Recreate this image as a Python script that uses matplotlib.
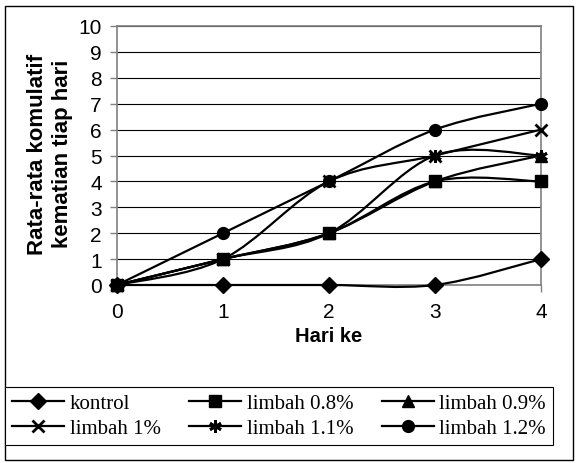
import numpy as np
import matplotlib
matplotlib.use('Agg')
import matplotlib.pyplot as plt
from matplotlib.path import Path
from matplotlib.patches import PathPatch, Rectangle
from matplotlib.lines import Line2D

# THE DATA *****************************************************************

days = [0, 1, 2, 3, 4]
series_names = ['kontrol', 'limbah 0.8%', 'limbah 0.9%', 'limbah 1%', 'limbah 1.1%', 'limbah 1.2%']
kontrol = [0, 0, 0, 0, 1]
limbah_08 = [0, 1, 2, 4, 4]
limbah_09 = [0, 1, 2, 4, 5]
limbah_10 = [0, 1, 4, 5, 6]
limbah_11 = [0, 1, 2, 5, 5]
limbah_12 = [0, 2, 4, 6, 7]
y_ticks = list(range(0, 11))

all_series = [kontrol, limbah_08, limbah_09, limbah_10, limbah_11, limbah_12]
markers = ['D', 's', '^', 'x', (6, 2, 0), 'o']
msizes = [8, 8.5, 8.5, 8, 9, 8.5]


# Excel-style smoothed line: cubic Bezier through the points
def smooth_path(x, y):
    pts = np.column_stack([x, y]).astype(float)
    n = len(pts)
    verts = [pts[0]]
    codes = [Path.MOVETO]
    for i in range(n - 1):
        p_prev = pts[i - 1] if i > 0 else pts[i]
        p_next2 = pts[i + 2] if i + 2 < n else pts[i + 1]
        c1 = pts[i] + (pts[i + 1] - p_prev) / 6
        c2 = pts[i + 1] - (p_next2 - pts[i]) / 6
        verts += [c1, c2, pts[i + 1]]
        codes += [Path.CURVE4] * 3
    return Path(verts, codes)


# THE CHART ****************************************************************

plt.rcParams['font.family'] = 'Liberation Sans'

fig = plt.figure(figsize=(5.76, 4.64), dpi=100, facecolor='w')
ax = fig.add_axes([117 / 576, 178 / 464, 424 / 576, 259 / 464])

for vals, mk, ms in zip(all_series, markers, msizes):
    ax.add_patch(PathPatch(smooth_path(days, vals), fill=False, edgecolor='k',
                           linewidth=1.6, zorder=3, clip_on=False))
    ax.plot(days, vals, linestyle='none', marker=mk, markersize=ms, color='k',
            markeredgewidth=2 if mk in ('x', (6, 2, 0)) else 1, zorder=4, clip_on=False)

ax.set_xlim(0, 4)
ax.set_ylim(0, 10)
ax.set_xticks(days)
ax.set_yticks(y_ticks)
ax.tick_params(axis='both', labelsize=15, color='#808080', length=5, width=1)
ax.tick_params(axis='x', pad=7)
ax.tick_params(axis='y', pad=6)
ax.grid(axis='y', color='k', linewidth=0.8, zorder=1)
for s in ax.spines.values():
    s.set_color('#808080')
    s.set_linewidth(1.2)

ax.set_xlabel('Hari ke', fontsize=14.5, fontweight='bold', labelpad=4)
fig.text(50 / 576, 1 - 154 / 464, 'Rata-rata komulatif\nkematian tiap hari', rotation=90,
         ha='center', va='center', fontsize=16, fontweight='bold', multialignment='center',
         linespacing=1.3)

# Legend (matplotlib fills columns first, so reorder to read row by row)
handles = [Line2D([], [], color='k', linewidth=1.6, marker=mk, markersize=ms,
                  markeredgewidth=2 if mk in ('x', (6, 2, 0)) else 1)
           for mk, ms in zip(markers, msizes)]
order = [0, 3, 1, 4, 2, 5]
leg = fig.legend([handles[i] for i in order], [series_names[i] for i in order],
                 ncol=3, mode='expand', loc='center',
                 bbox_to_anchor=(5 / 576, 16 / 464, 548 / 576, 62 / 464),
                 frameon=True, fancybox=False, edgecolor='k', framealpha=1,
                 borderaxespad=0, handlelength=2.5, handletextpad=0.25,
                 prop={'family': 'Liberation Serif', 'size': 15}, labelspacing=0.25,
                 borderpad=0.35, columnspacing=0.5)
leg.get_frame().set_linewidth(0.8)

# Outer border
fig.patches.append(Rectangle((5 / 576, 3 / 464), 568 / 576, 454 / 464, transform=fig.transFigure,
                             fill=False, edgecolor='k', linewidth=1))

fig.savefig('out.png', dpi=100, facecolor='w')
